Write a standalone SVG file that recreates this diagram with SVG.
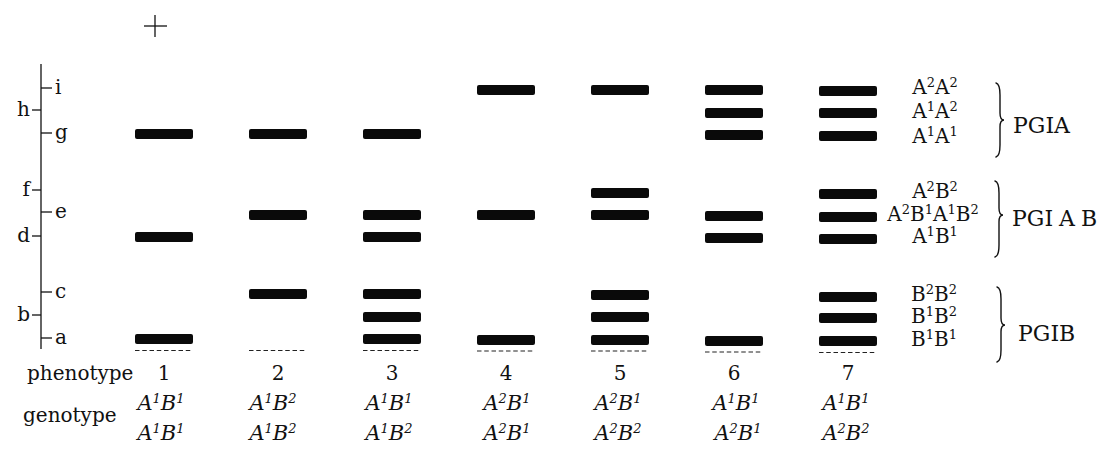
<svg xmlns="http://www.w3.org/2000/svg" width="1101" height="458" viewBox="0 0 1101 458">
<style>
  text{font-family:"DejaVu Serif","Liberation Serif",serif;fill:#111;}
  .lbl{font-size:20px;}
  .rl{font-size:20px;text-anchor:middle;}
  .big{font-size:22px;}
  .it{font-size:21px;font-style:italic;text-anchor:middle;}
  .num{font-size:20px;text-anchor:middle;}
  .s{font-size:13px;}
  .band{fill:#0a0a0a;}
  .ax{stroke:#111;stroke-width:1.3;fill:none;}
  .dash{stroke:#222;stroke-width:1.1;stroke-dasharray:4.5 2.75;fill:none;}
  .brace{stroke:#111;stroke-width:1.4;fill:none;stroke-linecap:round;}
</style>
<defs>
  <rect id="b" class="band" x="0" y="0" width="58" height="10" rx="2"/>
</defs>

<g id="plus">
  <line class="ax" x1="144" y1="26" x2="167" y2="26"/>
  <line class="ax" x1="155" y1="15" x2="155" y2="37"/>
</g>

<g id="connectors">
  <line class="ax" x1="41" y1="64" x2="41" y2="349"/>
  <line class="ax" x1="41" y1="88" x2="52" y2="88"/>
  <line class="ax" x1="32" y1="110" x2="41" y2="110"/>
  <line class="ax" x1="41" y1="133" x2="52" y2="133"/>
  <line class="ax" x1="32" y1="190" x2="41" y2="190"/>
  <line class="ax" x1="41" y1="212" x2="52" y2="212"/>
  <line class="ax" x1="32" y1="236" x2="41" y2="236"/>
  <line class="ax" x1="41" y1="292" x2="52" y2="292"/>
  <line class="ax" x1="32" y1="315" x2="41" y2="315"/>
  <line class="ax" x1="41" y1="338" x2="52" y2="338"/>
</g>

<g id="scale-labels" class="lbl">
  <text x="55" y="94">i</text>
  <text x="30" y="116" text-anchor="end">h</text>
  <text x="55" y="139">g</text>
  <text x="30" y="196" text-anchor="end">f</text>
  <text x="55" y="218">e</text>
  <text x="30" y="242" text-anchor="end">d</text>
  <text x="55" y="298">c</text>
  <text x="30" y="321" text-anchor="end">b</text>
  <text x="55" y="344">a</text>
</g>

<g id="lane1">
  <use href="#b" x="135" y="129"/>
  <use href="#b" x="135" y="232"/>
  <use href="#b" x="135" y="334"/>
  <line class="dash" x1="135" y1="350.5" x2="193" y2="350.5"/>
</g>
<g id="lane2">
  <use href="#b" x="249" y="129"/>
  <use href="#b" x="249" y="210"/>
  <use href="#b" x="249" y="289"/>
  <line class="dash" x1="249" y1="350.5" x2="307" y2="350.5"/>
</g>
<g id="lane3">
  <use href="#b" x="363" y="129"/>
  <use href="#b" x="363" y="210"/>
  <use href="#b" x="363" y="232"/>
  <use href="#b" x="363" y="289"/>
  <use href="#b" x="363" y="312"/>
  <use href="#b" x="363" y="334"/>
  <line class="dash" x1="363" y1="350.5" x2="421" y2="350.5"/>
</g>
<g id="lane4">
  <use href="#b" x="477" y="85"/>
  <use href="#b" x="477" y="210"/>
  <use href="#b" x="477" y="335"/>
  <line class="dash" x1="477" y1="351" x2="535" y2="351"/>
</g>
<g id="lane5">
  <use href="#b" x="591" y="85"/>
  <use href="#b" x="591" y="188"/>
  <use href="#b" x="591" y="210"/>
  <use href="#b" x="591" y="290"/>
  <use href="#b" x="591" y="312"/>
  <use href="#b" x="591" y="335"/>
  <line class="dash" x1="591" y1="351" x2="649" y2="351"/>
</g>
<g id="lane6">
  <use href="#b" x="705" y="85"/>
  <use href="#b" x="705" y="108"/>
  <use href="#b" x="705" y="130"/>
  <use href="#b" x="705" y="211"/>
  <use href="#b" x="705" y="233"/>
  <use href="#b" x="705" y="336"/>
  <line class="dash" x1="705" y1="352" x2="763" y2="352"/>
</g>
<g id="lane7">
  <use href="#b" x="819" y="86"/>
  <use href="#b" x="819" y="108"/>
  <use href="#b" x="819" y="131"/>
  <use href="#b" x="819" y="189"/>
  <use href="#b" x="819" y="212"/>
  <use href="#b" x="819" y="234"/>
  <use href="#b" x="819" y="292"/>
  <use href="#b" x="819" y="313"/>
  <use href="#b" x="819" y="336"/>
  <line class="dash" x1="819" y1="352.5" x2="877" y2="352.5"/>
</g>

<g id="band-labels" class="rl">
  <text x="935" y="94">A<tspan class="s" dy="-7">2</tspan><tspan dy="7">A</tspan><tspan class="s" dy="-7">2</tspan></text>
  <text x="935" y="118">A<tspan class="s" dy="-7">1</tspan><tspan dy="7">A</tspan><tspan class="s" dy="-7">2</tspan></text>
  <text x="935" y="143">A<tspan class="s" dy="-7">1</tspan><tspan dy="7">A</tspan><tspan class="s" dy="-7">1</tspan></text>
  <text x="935" y="198">A<tspan class="s" dy="-7">2</tspan><tspan dy="7">B</tspan><tspan class="s" dy="-7">2</tspan></text>
  <text x="933" y="221">A<tspan class="s" dy="-7">2</tspan><tspan dy="7">B</tspan><tspan class="s" dy="-7">1</tspan><tspan dy="7">A</tspan><tspan class="s" dy="-7">1</tspan><tspan dy="7">B</tspan><tspan class="s" dy="-7">2</tspan></text>
  <text x="935" y="243">A<tspan class="s" dy="-7">1</tspan><tspan dy="7">B</tspan><tspan class="s" dy="-7">1</tspan></text>
  <text x="934" y="301">B<tspan class="s" dy="-7">2</tspan><tspan dy="7">B</tspan><tspan class="s" dy="-7">2</tspan></text>
  <text x="934" y="323">B<tspan class="s" dy="-7">1</tspan><tspan dy="7">B</tspan><tspan class="s" dy="-7">2</tspan></text>
  <text x="934" y="346">B<tspan class="s" dy="-7">1</tspan><tspan dy="7">B</tspan><tspan class="s" dy="-7">1</tspan></text>
</g>

<g id="brace-PGIA">
  <path class="brace" d="M996,83 Q1000,84 1000,95 L1000,113 Q1000,120 1004,120 Q1000,120 1000,127 L1000,145 Q1000,156 996,157"/>
  <text class="big" x="1013" y="133">PGIA</text>
</g>
<g id="brace-PGIAB">
  <path class="brace" d="M995,181 Q999,182 999,193 L999,208 Q999,215 1003,215 Q999,215 999,222 L999,245 Q999,256 995,257"/>
  <text class="big" x="1012" y="226">PGI<tspan dx="6">A</tspan><tspan dx="6">B</tspan></text>
</g>
<g id="brace-PGIB">
  <path class="brace" d="M997,287 Q1001,288 1001,299 L1001,318 Q1001,325 1005,325 Q1001,325 1001,332 L1001,350 Q1001,361 997,362"/>
  <text class="big" x="1018" y="341">PGIB</text>
</g>

<g id="phenotype-row">
  <text class="lbl" x="27" y="380">phenotype</text>
  <text class="num" x="164" y="380">1</text>
  <text class="num" x="278" y="380">2</text>
  <text class="num" x="392" y="380">3</text>
  <text class="num" x="506" y="380">4</text>
  <text class="num" x="620" y="380">5</text>
  <text class="num" x="734" y="380">6</text>
  <text class="num" x="848" y="380">7</text>
</g>

<g id="genotype-row">
  <text class="lbl" x="23" y="422">genotype</text>
  <text class="it" x="161" y="410">A<tspan class="s" dy="-7">1</tspan><tspan dy="7">B</tspan><tspan class="s" dy="-7">1</tspan></text>
  <text class="it" x="161" y="440">A<tspan class="s" dy="-7">1</tspan><tspan dy="7">B</tspan><tspan class="s" dy="-7">1</tspan></text>
  <text class="it" x="273" y="410">A<tspan class="s" dy="-7">1</tspan><tspan dy="7">B</tspan><tspan class="s" dy="-7">2</tspan></text>
  <text class="it" x="273" y="440">A<tspan class="s" dy="-7">1</tspan><tspan dy="7">B</tspan><tspan class="s" dy="-7">2</tspan></text>
  <text class="it" x="389" y="410">A<tspan class="s" dy="-7">1</tspan><tspan dy="7">B</tspan><tspan class="s" dy="-7">1</tspan></text>
  <text class="it" x="389" y="440">A<tspan class="s" dy="-7">1</tspan><tspan dy="7">B</tspan><tspan class="s" dy="-7">2</tspan></text>
  <text class="it" x="507" y="410">A<tspan class="s" dy="-7">2</tspan><tspan dy="7">B</tspan><tspan class="s" dy="-7">1</tspan></text>
  <text class="it" x="507" y="440">A<tspan class="s" dy="-7">2</tspan><tspan dy="7">B</tspan><tspan class="s" dy="-7">1</tspan></text>
  <text class="it" x="618" y="410">A<tspan class="s" dy="-7">2</tspan><tspan dy="7">B</tspan><tspan class="s" dy="-7">1</tspan></text>
  <text class="it" x="618" y="440">A<tspan class="s" dy="-7">2</tspan><tspan dy="7">B</tspan><tspan class="s" dy="-7">2</tspan></text>
  <text class="it" x="736" y="410">A<tspan class="s" dy="-7">1</tspan><tspan dy="7">B</tspan><tspan class="s" dy="-7">1</tspan></text>
  <text class="it" x="738" y="440">A<tspan class="s" dy="-7">2</tspan><tspan dy="7">B</tspan><tspan class="s" dy="-7">1</tspan></text>
  <text class="it" x="846" y="410">A<tspan class="s" dy="-7">1</tspan><tspan dy="7">B</tspan><tspan class="s" dy="-7">1</tspan></text>
  <text class="it" x="846" y="440">A<tspan class="s" dy="-7">2</tspan><tspan dy="7">B</tspan><tspan class="s" dy="-7">2</tspan></text>
</g>
</svg>
